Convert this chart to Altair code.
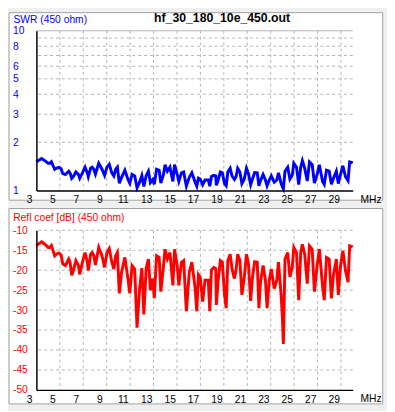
import altair as alt
import pandas as pd

FREQ_MHZ = [
    3.00, 3.44, 3.72, 4.00, 4.14, 4.28, 4.56, 4.70, 4.92, 5.11,
    5.25, 5.48, 5.59, 5.76, 5.87, 6.01, 6.15, 6.37, 6.59, 6.70,
    6.93, 7.15, 7.35, 7.43, 7.63, 7.76, 7.90, 8.04, 8.32, 8.60,
    8.82, 9.02, 9.22, 9.44, 9.61, 9.77, 9.91, 10.08, 10.27, 10.55,
    10.83, 10.97, 11.17, 11.39, 11.59, 11.81, 12.00, 12.17, 12.37, 12.56,
    12.73, 12.93, 13.06, 13.26, 13.48, 13.62, 13.85, 13.98, 14.18, 14.40,
    14.65, 14.79, 15.02, 15.16, 15.38, 15.57, 15.80, 16.05, 16.27, 16.55,
    16.69, 16.83, 16.98, 17.19, 17.39, 17.67, 17.80, 17.94, 18.14, 18.31,
    18.36, 18.50, 18.70, 18.87, 19.06, 19.20, 19.34, 19.54, 19.70, 19.90,
    20.04, 20.18, 20.37, 20.54, 20.73, 20.93, 21.10, 21.29, 21.43, 21.63,
    21.85, 21.99, 22.13, 22.35, 22.55, 22.69, 22.88, 23.05, 23.30, 23.52,
    23.66, 23.89, 24.00, 24.08, 24.22, 24.45, 24.64, 24.84, 24.97, 25.20,
    25.39, 25.56, 25.70, 25.90, 26.12, 26.31, 26.54, 26.73, 26.96, 27.15,
    27.43, 27.57, 27.76, 27.99, 28.18, 28.35, 28.60, 28.77, 28.96, 29.16,
    29.38, 29.60, 29.74, 29.94, 30.00,
]

REFL_DB = [
    -13.8, -12.9, -13.5, -14.3, -14.3, -13.8, -16.4, -16.0, -15.7, -16.2,
    -18.4, -18.85, -18.2, -17.2, -18.0, -21.3, -20.1, -17.6, -18.85, -21.1,
    -18.0, -15.6, -18.0, -20.1, -16.0, -15.6, -16.4, -18.7, -14.3, -16.4,
    -19.3, -15.6, -14.6, -18.0, -19.7, -16.4, -15.6, -25.8, -20.5, -16.8,
    -22.5, -25.8, -18.85, -19.7, -34.4, -24.6, -19.5, -31.1, -19.5, -17.2,
    -25.0, -22.1, -27.0, -16.4, -16.8, -25.4, -18.85, -14.75, -17.2, -15.6,
    -23.8, -14.75, -18.85, -23.8, -18.0, -17.6, -30.3, -20.5, -18.0, -24.6,
    -30.3, -21.1, -21.7, -27.9, -22.5, -22.5, -30.3, -20.0, -19.3, -19.6,
    -28.7, -23.0, -17.6, -18.0, -26.2, -29.5, -17.6, -16.0, -19.7, -22.1,
    -20.1, -16.0, -17.6, -26.2, -22.1, -16.0, -18.4, -27.7, -22.1, -17.9,
    -18.0, -29.5, -23.0, -18.85, -22.5, -29.5, -22.5, -19.7, -24.6, -22.5,
    -18.0, -26.2, -32.0, -38.5, -17.2, -15.6, -21.7, -19.3, -14.3, -15.6,
    -27.5, -15.6, -13.5, -16.0, -23.4, -13.9, -14.75, -25.4, -18.85, -14.75,
    -24.2, -27.5, -16.8, -17.2, -27.05, -21.3, -17.2, -26.2, -18.85, -15.1,
    -20.1, -23.0, -13.9, -14.1, -14.2,
]

SWR = [
    1.513, 1.586, 1.536, 1.478, 1.478, 1.513, 1.357, 1.377, 1.393, 1.367,
    1.273, 1.258, 1.281, 1.320, 1.288, 1.188, 1.219, 1.304, 1.258, 1.193,
    1.288, 1.398, 1.288, 1.219, 1.377, 1.398, 1.357, 1.263, 1.478, 1.357,
    1.243, 1.398, 1.458, 1.288, 1.231, 1.357, 1.398, 1.108, 1.208, 1.338,
    1.162, 1.108, 1.258, 1.231, 1.039, 1.125, 1.237, 1.057, 1.237, 1.320,
    1.119, 1.170, 1.094, 1.357, 1.338, 1.113, 1.258, 1.448, 1.320, 1.398,
    1.138, 1.448, 1.258, 1.138, 1.288, 1.304, 1.063, 1.208, 1.288, 1.125,
    1.063, 1.193, 1.179, 1.084, 1.162, 1.162, 1.063, 1.222, 1.243, 1.234,
    1.076, 1.152, 1.304, 1.288, 1.103, 1.069, 1.304, 1.377, 1.231, 1.170,
    1.219, 1.377, 1.304, 1.103, 1.170, 1.377, 1.273, 1.086, 1.170, 1.292,
    1.288, 1.069, 1.152, 1.258, 1.162, 1.069, 1.162, 1.231, 1.125, 1.162,
    1.288, 1.103, 1.052, 1.024, 1.320, 1.398, 1.179, 1.243, 1.478, 1.398,
    1.088, 1.398, 1.536, 1.377, 1.145, 1.506, 1.448, 1.113, 1.258, 1.448,
    1.132, 1.088, 1.338, 1.320, 1.094, 1.188, 1.320, 1.103, 1.258, 1.427,
    1.219, 1.152, 1.506, 1.491, 1.484,
]

X_TICKS = [3, 5, 7, 9, 11, 13, 15, 17, 19, 21, 23, 25, 27, 29]
X_GRID = [5, 7, 9, 11, 13, 15, 17, 19, 21, 23, 25, 27, 29]
SWR_TICKS = [1, 2, 3, 4, 5, 6, 8, 10]
SWR_GRID = [2, 3, 4, 5, 6, 7, 8, 9]
SWR_TOP = [10]
DB_TICKS = [-50, -45, -40, -35, -30, -25, -20, -15, -10]
DB_GRID = [-45, -40, -35, -30, -25, -20, -15, -10]

FILE_TITLE = "hf_30_180_10e_450.out"
SWR_TITLE = "SWR (450 ohm)"
DB_TITLE = "Refl coef [dB] (450 ohm)"
UNIT = "MHz"

W = 323
H = 163
FONT = "Liberation Sans"
GRID_COLOR = "#b4b4b4"
BLUE = "#0000ff"
RED = "#ff0000"

df = pd.DataFrame({"f": FREQ_MHZ, "db": REFL_DB, "swr": SWR})
one = pd.DataFrame({"k": [0]})

x_scale = alt.Scale(domain=[3, 30], nice=False, zero=False)
swr_scale = alt.Scale(type="log", domain=[1, 10], nice=False)
db_scale = alt.Scale(domain=[-50, -10], nice=False, zero=False)


def x_axis():
    return alt.Axis(values=X_TICKS, title=None, grid=False, ticks=False, tickSize=0,
                    domainColor="black", domainWidth=1.5, labelColor="black",
                    labelFont=FONT, labelFontSize=10.5, labelPadding=9.5,
                    labelBaseline="middle", labelAlign="center", labelOffset=-7.5,
                    labelFlush=False, labelOverlap=False, zindex=1)


def y_axis(values, color):
    return alt.Axis(values=values, title=None, grid=False, ticks=False, tickSize=0,
                    domainColor="black", domainWidth=1.5, labelColor=color,
                    labelFont=FONT, labelFontSize=10.5, labelPadding=24.4,
                    labelAlign="left", labelBaseline="middle", labelFlush=False,
                    labelOverlap=False, labelExpr="'' + datum.value", zindex=1)


def text(s, x, y, color, size=10.5, weight="normal", align="left", baseline="alphabetic"):
    return alt.Chart(one).mark_text(text=s, font=FONT, fontSize=size, fontWeight=weight,
                                    color=color, align=align, baseline=baseline).encode(
        x=alt.value(x), y=alt.value(y))


# ---------- upper panel: SWR ----------
up_xax = x_axis()
up_yax = y_axis(SWR_TICKS, BLUE)
up_bg = alt.Chart(one).mark_rect(fill="white", stroke="#a0a0a0", strokeWidth=1).encode(
    x=alt.value(-27.9), x2=alt.value(353.6), y=alt.value(-18.5), y2=alt.value(173))
up_vgrid = alt.Chart(pd.DataFrame({"f": X_GRID})).mark_rule(
    color=GRID_COLOR, strokeDash=[3, 3], strokeWidth=1).encode(
    x=alt.X("f:Q", scale=x_scale, axis=up_xax))
up_hgrid = alt.Chart(pd.DataFrame({"swr": SWR_GRID})).mark_rule(
    color=GRID_COLOR, strokeDash=[3, 3], strokeWidth=1).encode(
    y=alt.Y("swr:Q", scale=swr_scale, axis=up_yax))
up_top = alt.Chart(pd.DataFrame({"swr": SWR_TOP})).mark_rule(
    color=GRID_COLOR, strokeWidth=1).encode(
    y=alt.Y("swr:Q", scale=swr_scale, axis=up_yax))
up_line = alt.Chart(df).mark_line(color=BLUE, strokeWidth=3).encode(
    x=alt.X("f:Q", scale=x_scale, axis=up_xax),
    y=alt.Y("swr:Q", scale=swr_scale, axis=up_yax))
upper = alt.layer(
    up_bg, up_vgrid, up_hgrid, up_top, up_line,
    text(SWR_TITLE, -23.4, -8.3, BLUE),
    text(FILE_TITLE, 189.6, -8.5, "black", size=12.5, weight="bold", align="center"),
    text(UNIT, 331, H + 9.5, "black", baseline="middle"),
).properties(width=W, height=H)

# ---------- lower panel: reflection coefficient ----------
lo_xax = x_axis()
lo_yax = y_axis(DB_TICKS, RED)
lo_gray = alt.Chart(one).mark_rect(fill="#f0f0f0").encode(
    x=alt.value(-27.9), x2=alt.value(357.6), y=alt.value(-22.7), y2=alt.value(180.3))
lo_bg = alt.Chart(one).mark_rect(fill="white", stroke="#a0a0a0", strokeWidth=1).encode(
    x=alt.value(-27.9), x2=alt.value(353.6), y=alt.value(-22.2), y2=alt.value(177.3))
lo_vgrid = alt.Chart(pd.DataFrame({"f": X_GRID})).mark_rule(
    color=GRID_COLOR, strokeDash=[3, 3], strokeWidth=1).encode(
    x=alt.X("f:Q", scale=x_scale, axis=lo_xax))
lo_hgrid = alt.Chart(pd.DataFrame({"db": DB_GRID})).mark_rule(
    color=GRID_COLOR, strokeDash=[3, 3], strokeWidth=1).encode(
    y=alt.Y("db:Q", scale=db_scale, axis=lo_yax))
lo_line = alt.Chart(df).mark_line(color=RED, strokeWidth=3).encode(
    x=alt.X("f:Q", scale=x_scale, axis=lo_xax),
    y=alt.Y("db:Q", scale=db_scale, axis=lo_yax))
lower = alt.layer(
    lo_gray, lo_bg, lo_vgrid, lo_hgrid, lo_line,
    text(DB_TITLE, -23.7, -9.2, RED),
    text(UNIT, 331, H + 9.5, "black", baseline="middle"),
).properties(width=W, height=H)

chart = alt.vconcat(upper, lower, spacing=40.7, bounds="flush").properties(
    background="#f0f0f0", padding=0
).configure_view(strokeWidth=0)

chart.save("out.html", embed_options={"renderer": "svg", "actions": False})
